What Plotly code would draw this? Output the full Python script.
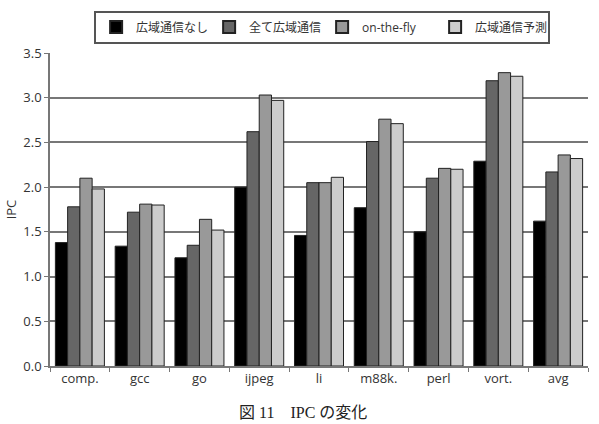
import plotly.graph_objects as go

categories = ["comp.", "gcc", "go", "ijpeg", "li", "m88k.", "perl", "vort.", "avg"]
series_names = ["広域通信なし", "全て広域通信", "on-the-fly", "広域通信予測"]
no_global = [1.38, 1.34, 1.21, 2.00, 1.46, 1.77, 1.50, 2.29, 1.62]
all_global = [1.78, 1.72, 1.35, 2.62, 2.05, 2.51, 2.10, 3.19, 2.17]
on_the_fly = [2.10, 1.81, 1.64, 3.03, 2.05, 2.76, 2.21, 3.28, 2.36]
predicted = [1.98, 1.80, 1.52, 2.97, 2.11, 2.71, 2.20, 3.24, 2.32]
y_ticks = [0.0, 0.5, 1.0, 1.5, 2.0, 2.5, 3.0, 3.5]

colors = ["#000000", "#666666", "#999999", "#cccccc"]
series = [no_global, all_global, on_the_fly, predicted]

fig = go.Figure()
for name, vals, c in zip(series_names, series, colors):
    fig.add_trace(go.Bar(
        x=categories, y=vals, name=name,
        marker=dict(color=c, line=dict(color="#222222", width=1)),
    ))

font_family = "Open Sans, Noto Sans CJK JP, sans-serif"
fig.update_layout(
    width=599, height=424,
    margin=dict(l=50, r=11, t=49, b=58),
    paper_bgcolor="white", plot_bgcolor="white",
    barmode="group", bargap=0.18, bargroupgap=0.0,
    font=dict(family=font_family, size=13, color="#333333"),
    showlegend=True,
    legend=dict(
        orientation="h", x=0.082, xanchor="left", y=1.03, yanchor="bottom",
        bordercolor="#555555", borderwidth=2, bgcolor="white",
        font=dict(family=font_family, size=12, color="#333333"),
        entrywidth=68, entrywidthmode="pixels",
        itemsizing="constant", traceorder="normal",
        tracegroupgap=0,
    ),
    xaxis=dict(
        showline=True, linecolor="#777777", linewidth=1.5,
        ticks="outside", ticklen=4, tickcolor="#777777",
        tickson="boundaries", showgrid=False,
        tickfont=dict(size=13, color="#333333"),
    ),
    yaxis=dict(
        range=[0, 3.5], tickvals=y_ticks, tickformat=".1f",
        showline=True, linecolor="#777777", linewidth=1.5,
        ticks="outside", ticklen=4, tickcolor="#777777",
        showgrid=True, gridcolor="#777777", gridwidth=1.5,
        zeroline=False,
        title=dict(text="IPC", standoff=4, font=dict(size=13, color="#333333")),
        tickfont=dict(size=13, color="#333333"),
    ),
    annotations=[dict(
        text="図 11　IPC の変化", xref="paper", yref="paper",
        x=0.47, y=-0.182, xanchor="center", yanchor="bottom", showarrow=False,
        font=dict(family="Liberation Serif, Noto Sans CJK JP, serif", size=16, color="#222222"),
    )],
)

fig.write_html("out.html")
